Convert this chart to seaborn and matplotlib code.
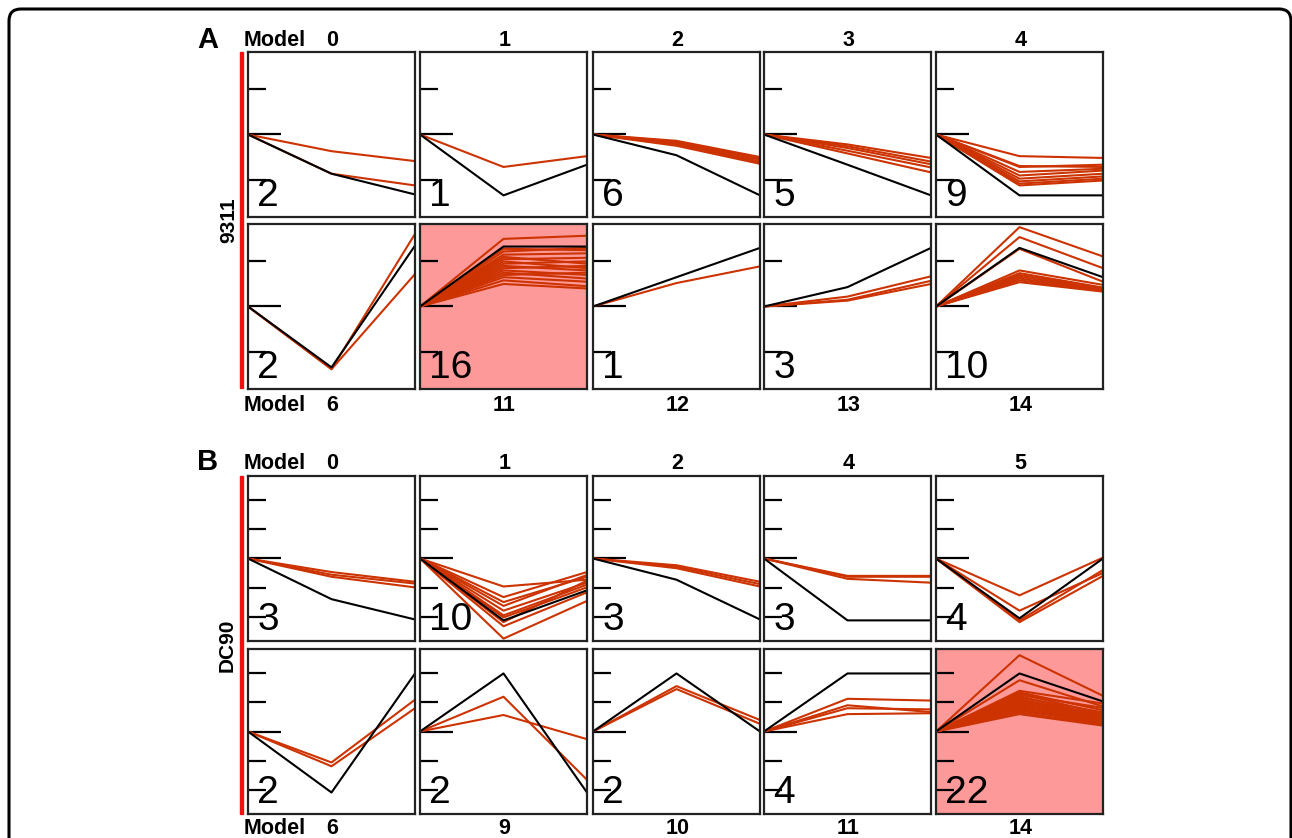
import matplotlib
matplotlib.use("Agg")
import matplotlib.pyplot as plt
from matplotlib.patches import FancyBboxPatch, Rectangle
import numpy as np
import pandas as pd
import seaborn as sns

# Each profile starts at 0 (time point 0); values below are for time points 1 and 2
a_top_models = [0, 1, 2, 3, 4]
a_top_counts = [2, 1, 6, 5, 9]
a_top_black = [(-0.87, -1.33), (-1.35, -0.67), (-0.46, -1.35), (-0.67, -1.35), (-1.35, -1.35)]
a_top_red = [
    [(-0.37, -0.59), (-0.87, -1.13)],
    [(-0.72, -0.48)],
    [(-0.14, -0.50), (-0.16, -0.53), (-0.18, -0.56), (-0.20, -0.60), (-0.22, -0.62), (-0.25, -0.65)],
    [(-0.22, -0.52), (-0.26, -0.60), (-0.30, -0.66), (-0.36, -0.73), (-0.42, -0.84)],
    [(-0.48, -0.52), (-0.70, -0.72), (-0.72, -0.67), (-0.83, -0.76), (-0.91, -0.80),
     (-0.98, -0.87), (-1.04, -0.93), (-1.09, -0.98), (-1.13, -1.02)],
]

a_bot_models = [6, 11, 12, 13, 14]
a_bot_counts = [2, 16, 1, 3, 10]
a_bot_black = [(-1.35, 1.35), (1.33, 1.33), (0.65, 1.30), (0.43, 1.30), (1.30, 0.65)]
a_bot_red = [
    [(-1.39, 1.61), (-1.39, 0.72)],
    [(1.50, 1.57), (1.28, 1.25), (1.22, 1.30), (1.15, 1.18), (1.10, 0.95), (1.05, 1.08),
     (1.00, 0.85), (0.95, 1.00), (0.90, 0.80), (0.85, 0.90), (0.80, 0.70), (0.75, 0.62),
     (0.70, 0.75), (0.65, 0.55), (0.58, 0.45), (0.50, 0.40)],
    [(0.52, 0.89)],
    [(0.22, 0.67), (0.15, 0.57), (0.13, 0.50)],
    [(1.76, 1.11), (1.54, 0.85), (1.28, 0.55), (0.80, 0.48), (0.74, 0.42), (0.70, 0.40),
     (0.66, 0.38), (0.62, 0.36), (0.58, 0.34), (0.54, 0.33)],
]

b_top_models = [0, 1, 2, 4, 5]
b_top_counts = [3, 10, 3, 3, 4]
b_top_black = [(-1.38, -2.07), (-2.10, -1.08), (-0.72, -2.07), (-2.10, -2.10), (-2.03, 0.0)]
b_top_red = [
    [(-0.46, -0.79), (-0.55, -0.85), (-0.62, -0.98)],
    [(-0.95, -0.72), (-1.31, -0.46), (-1.48, -0.62), (-1.61, -0.56), (-1.77, -0.82),
     (-1.93, -0.89), (-2.00, -0.98), (-2.16, -0.75), (-2.30, -1.15), (-2.72, -1.44)],
    [(-0.23, -0.79), (-0.28, -0.87), (-0.33, -0.95)],
    [(-0.59, -0.59), (-0.62, -0.62), (-0.69, -0.82)],
    [(-1.25, 0.03), (-1.77, -0.49), (-2.10, -0.39), (-2.16, -0.59)],
]

b_bot_models = [6, 9, 10, 11, 14]
b_bot_counts = [2, 2, 2, 4, 22]
b_bot_black = [(-2.07, 1.97), (1.97, -2.07), (1.97, 0.0), (1.97, 1.97), (1.97, 1.02)]
b_bot_red = [
    [(-1.05, 1.08), (-1.18, 0.79)],
    [(1.18, -1.64), (0.56, -0.26)],
    [(1.54, 0.39), (1.44, 0.26)],
    [(1.11, 1.05), (0.89, 0.66), (0.79, 0.75), (0.59, 0.62)],
    [(2.59, 1.21), (1.74, 0.85), (1.38, 0.95), (1.33, 0.72), (1.28, 0.60), (1.25, 0.80),
     (1.20, 0.50), (1.15, 0.65), (1.10, 0.45), (1.08, 0.55), (1.05, 0.40), (1.00, 0.62),
     (0.97, 0.35), (0.93, 0.50), (0.90, 0.30), (0.86, 0.45), (0.82, 0.28), (0.78, 0.38),
     (0.74, 0.25), (0.70, 0.33), (0.65, 0.22), (0.59, 0.20)],
]

# layout (pixels of the 1292x838 picture)
W, H = 1292, 838
col_left = [248, 420, 593, 764, 936]
row_top = [52, 224, 476, 649]
pw, ph = 167, 165
red_line = "#cc3300"
hl_fill = "#fd9999"

sns.set_style("white")
plt.rcParams["font.family"] = ["Liberation Sans", "DejaVu Sans"]
plt.rcParams["text.color"] = "black"

fig = plt.figure(figsize=(W / 100, H / 100), dpi=100)


def px(x, y):
    return x / W, 1 - y / H


def to_frame(profiles):
    rows = []
    for i, (v1, v2) in enumerate(profiles):
        for t, v in zip([0, 1, 2], [0.0, v1, v2]):
            rows.append({"x": t, "y": v, "line": i})
    return pd.DataFrame(rows)


def draw_row(top, blacks, reds, counts, lim, ticks, highlight=None):
    for j in range(5):
        l, b = px(col_left[j], top + ph)
        ax = fig.add_axes([l, b, pw / W, ph / H])
        if j == highlight:
            ax.set_facecolor(hl_fill)
        sns.lineplot(data=to_frame(reds[j]), x="x", y="y", units="line",
                     estimator=None, color=red_line, linewidth=1.5, ax=ax,
                     legend=False)
        sns.lineplot(data=to_frame([blacks[j]]), x="x", y="y", units="line",
                     estimator=None, color="black", linewidth=1.5, ax=ax,
                     legend=False)
        ax.set_xlim(0, 2)
        ax.set_ylim(-lim, lim)
        ax.set_xticks([])
        ax.set_yticks(ticks)
        ax.set_yticks([0], minor=True)
        ax.tick_params(axis="y", which="major", left=True, direction="in",
                       length=13, width=1.6, color="black", labelleft=False)
        ax.tick_params(axis="y", which="minor", left=True, direction="in",
                       length=24, width=1.6, color="black", labelleft=False)
        ax.set_xlabel("")
        ax.set_ylabel("")
        for s in ax.spines.values():
            s.set_color("#222222")
            s.set_linewidth(1.6)
        ax.text(0.055, 0.065, str(counts[j]), transform=ax.transAxes,
                fontsize=28, ha="left", va="baseline", color="black")


draw_row(row_top[0], a_top_black, a_top_red, a_top_counts, 1.83, [-1, 1])
draw_row(row_top[1], a_bot_black, a_bot_red, a_bot_counts, 1.83, [-1, 1], highlight=1)
draw_row(row_top[2], b_top_black, b_top_red, b_top_counts, 2.8, [-2, -1, 1, 2])
draw_row(row_top[3], b_bot_black, b_bot_red, b_bot_counts, 2.8, [-2, -1, 1, 2], highlight=4)


def model_labels(models, y):
    fig.text(*px(244, y), "Model", fontsize=15.5, fontweight="bold",
             ha="left", va="center")
    for j, m in enumerate(models):
        fig.text(*px(col_left[j] + pw / 2 + 1, y), str(m), fontsize=15.5,
                 fontweight="bold", ha="center", va="center")


model_labels(a_top_models, 40)
model_labels(a_bot_models, 405)
model_labels(b_top_models, 463)
model_labels(b_bot_models, 828)

fig.text(*px(208, 40), "A", fontsize=21, fontweight="bold", ha="center", va="center")
fig.text(*px(208, 462), "B", fontsize=21, fontweight="bold", ha="center", va="center")

fig.text(*px(229, 220), "9311", fontsize=15, fontweight="bold", rotation=90,
         ha="center", va="center")
fig.text(*px(227, 645), "DC90", fontsize=15, fontweight="bold", rotation=90,
         ha="center", va="center")

# red vertical bars next to each group
for y0, y1 in [(52, 388), (476, 814)]:
    x0, yb = px(239.5, y1)
    fig.patches.append(Rectangle((x0, yb), 3.5 / W, (y1 - y0) / H,
                                 transform=fig.transFigure, color="#ee1111"))

# rounded outer frame
fig.patches.append(FancyBboxPatch((9, -30), 1282, H - 9 + 30,
                                  boxstyle="round,pad=0,rounding_size=12",
                                  transform=None, fill=False,
                                  edgecolor="black", linewidth=2.2))

fig.savefig("out.png", dpi=100)
